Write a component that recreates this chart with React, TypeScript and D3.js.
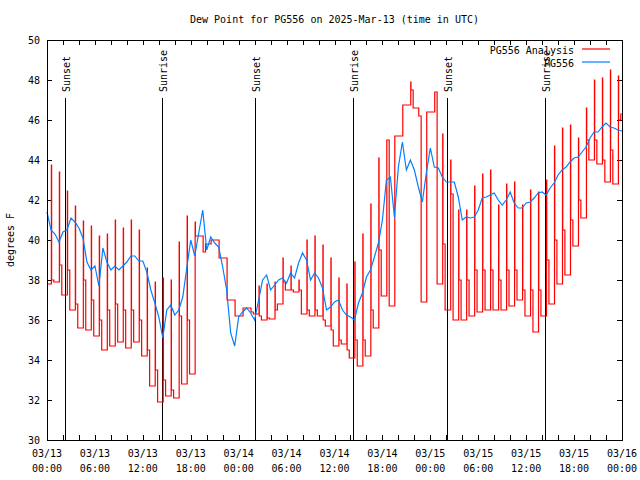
import React from "react";
import * as d3 from "d3";

// ---- data ----
const title = "Dew Point for PG556 on 2025-Mar-13 (time in UTC)";
const yLabel = "degrees F";
const seriesNames = ["PG556 Analysis", "PG556"];
const seriesColors = ["#ff0000", "#0080ff"];

const yTicks = [30, 32, 34, 36, 38, 40, 42, 44, 46, 48, 50];
const xMinorHours = [0, 2, 4, 6, 8, 10, 12, 14, 16, 18, 20, 22, 24, 26, 28, 30, 32, 34, 36, 38, 40, 42, 44, 46, 48, 50, 52, 54, 56, 58, 60, 62, 64, 66, 68, 70, 72];
const xLabelHours = [0, 6, 12, 18, 24, 30, 36, 42, 48, 54, 60, 66, 72];
const xLabelDates = ["03/13", "03/13", "03/13", "03/13", "03/14", "03/14", "03/14", "03/14", "03/15", "03/15", "03/15", "03/15", "03/16"];
const xLabelTimes = ["00:00", "06:00", "12:00", "18:00", "00:00", "06:00", "12:00", "18:00", "00:00", "06:00", "12:00", "18:00", "00:00"];

const sunHours = [2.2, 14.45, 26.05, 38.35, 50.13, 62.4];
const sunLabels = ["Sunset", "Sunrise", "Sunset", "Sunrise", "Sunset", "Sunrise"];

// PG556 (blue), every 30 minutes from 03/13 00:00
const blueValues = [
  41.4, 40.5, 40.3, 39.9, 40.4, 40.5, 41.1, 40.9, 40.6, 40.1,
  38.9, 38.5, 38.7, 37.7, 39.6, 38.9, 38.5, 38.7, 38.5, 38.7,
  38.9, 39.2, 39.2, 38.95, 38.95, 38.4, 37.5, 36.85, 36.15, 35.1,
  36.5, 36.75, 36.25, 36.5, 37.15, 38.6, 40.0, 39.2, 40.35, 41.5,
  39.5, 40.15, 39.85, 39.65, 38.65, 37.5, 35.35, 34.7, 36.15, 36.4,
  36.6, 36.35, 36.0, 37.0, 38.0, 38.25, 37.5, 37.75, 38.0, 38.1,
  37.85, 38.35, 38.1, 38.85, 39.35, 39.0, 38.0, 38.35, 38.1, 37.6,
  36.5, 36.65, 36.9, 37.0, 36.5, 36.25, 36.15, 36.0, 36.85, 37.35,
  38.15, 38.5, 39.15, 39.85, 41.0, 43.0, 43.15, 41.15, 43.65, 44.9,
  43.5, 44.0, 43.5, 42.65, 41.9, 43.35, 44.6, 43.65, 43.6, 43.15,
  42.9, 42.9, 42.9, 42.15, 41.0, 41.15, 41.1, 41.15, 41.5, 42.1,
  42.15, 42.25, 42.35, 42.0, 41.75, 42.0, 42.4, 41.85, 41.6, 41.6,
  41.85, 41.9, 42.1, 42.35, 42.4, 42.25, 42.6, 42.85, 43.25, 43.5,
  43.65, 43.9, 44.1, 44.15, 44.4, 44.65, 45.1, 45.4, 45.4, 45.65,
  45.85, 45.65, 45.6, 45.5, 45.45,
];

// PG556 Analysis (red): hourly spike top, value right after it, and floor until the next spike
const redStart = 37.8;
const redPeak = [
  43.75, 43.4, 42.45, 41.7, 40.95, 40.7, 40.2, 40.3, 41.0, 40.6,
  41.0, 40.5, 38.6, 37.9, 38.1, 38.0, 39.9, 41.2, 40.9, 39.4,
  40.0, 39.1, 37.0, 36.2, 36.6, 36.4, 37.7, 37.8, 37.9, 39.1,
  38.7, 38.0, 40.0, 40.2, 39.75, 39.1, 38.1, 37.8, 38.9, 40.3,
  41.8, 44.1, 45.0, 45.2, 46.75, 47.9, 46.2, 46.4, 47.4, 45.3,
  44.0, 41.5, 41.5, 42.7, 43.3, 43.5, 41.75, 42.8, 42.9, 41.75,
  42.5, 42.4, 43.0, 44.7, 45.6, 45.75, 45.1, 46.6, 48.0, 48.1,
  48.5, 48.2,
];
const redMid = [
  38.0, 38.75, 38.5, 36.8, 38.0, 37.0, 36.0, 36.5, 36.8, 36.5,
  36.5, 36.0, 34.5, 33.5, 33.0, 32.5, 36.2, 36.0, 40.2, 39.4,
  40.0, 39.1, 37.0, 36.2, 36.6, 36.4, 36.2, 36.1, 36.5, 37.9,
  37.5, 37.5, 36.5, 36.5, 36.0, 35.5, 35.0, 34.5, 35.0, 35.0,
  36.5, 39.5, 45.0, 45.2, 46.75, 47.5, 46.2, 46.4, 47.4, 39.8,
  42.3, 38.0, 38.0, 38.5, 38.5, 38.5, 38.0, 38.5, 38.5, 37.5,
  37.5, 37.5, 39.0, 40.0, 40.5, 41.0, 42.0, 45.0, 45.0, 44.0,
  44.5, 46.0,
];
const redLow = [
  37.9, 37.25, 36.5, 35.6, 35.5, 35.2, 34.5, 34.7, 34.9, 34.6,
  34.9, 34.2, 32.7, 31.9, 32.2, 32.1, 32.8, 33.3, 40.2, 39.8,
  40.0, 39.1, 37.0, 36.2, 36.6, 36.3, 36.0, 36.05, 36.8, 37.5,
  37.4, 36.3, 36.2, 36.2, 35.7, 34.7, 34.8, 34.1, 33.7, 34.2,
  35.6, 37.2, 36.7, 45.2, 46.75, 46.6, 36.9, 46.4, 37.8, 36.5,
  36.0, 36.0, 36.2, 36.4, 36.5, 36.5, 36.5, 36.7, 37.0, 36.2,
  35.4, 36.2, 36.8, 37.8, 38.25, 39.7, 41.1, 44.0, 43.8, 42.9,
  42.8, 46.3,
];

// ---- layout ----
const W = 640;
const H = 480;
const PL = 47;
const PR = 622;
const PT = 40;
const PB = 440;
const FONT = "'DejaVu Sans Mono', monospace";

export default function App() {
  const x = d3.scaleLinear().domain([0, 72]).range([PL, PR]);
  const y = d3.scaleLinear().domain([30, 50]).range([PB, PT]);

  const bluePts: [number, number][] = blueValues.map((v, i) => [i * 0.5, v]);
  const redPts: [number, number][] = [[0, redStart]];
  redPeak.forEach((p, h) => {
    redPts.push([h + 0.55, p]);
    redPts.push([h + 0.58, redMid[h]]);
    redPts.push([h + 0.85, redLow[h]]);
  });
  redPts.push([72, redLow[redLow.length - 1]]);

  const blueLine = d3
    .line<[number, number]>()
    .x((d) => x(d[0]))
    .y((d) => y(d[1]));
  const redLine = d3
    .line<[number, number]>()
    .x((d) => x(d[0]))
    .y((d) => y(d[1]))
    .curve(d3.curveStepAfter);

  const tick = 5;
  const legendX = 574;
  const legendY = [50, 63];

  return (
    <svg
      width={W}
      height={H}
      style={{ position: "absolute", left: 0, top: 0, background: "#fff" }}
      fontFamily={FONT}
      fontSize={10}
    >
      <rect x={0} y={0} width={W} height={H} fill="#fff" />
      <text x={(PL + PR) / 2} y={23} textAnchor="middle" fill="#000">
        {title}
      </text>

      {/* ticks */}
      <g stroke="#000" strokeWidth={1} shapeRendering="crispEdges">
        {yTicks.map((v) => (
          <g key={"yt" + v}>
            <line x1={PL} x2={PL + tick} y1={Math.round(y(v)) + 0.5} y2={Math.round(y(v)) + 0.5} />
            <line x1={PR - tick} x2={PR} y1={Math.round(y(v)) + 0.5} y2={Math.round(y(v)) + 0.5} />
          </g>
        ))}
        {xMinorHours.map((h) => (
          <g key={"xt" + h}>
            <line x1={Math.round(x(h)) + 0.5} x2={Math.round(x(h)) + 0.5} y1={PB} y2={PB - tick} />
            <line x1={Math.round(x(h)) + 0.5} x2={Math.round(x(h)) + 0.5} y1={PT} y2={PT + tick} />
          </g>
        ))}
      </g>

      {/* y labels */}
      {yTicks.map((v) => (
        <text key={"yl" + v} x={40} y={y(v) + 3.5} textAnchor="end" fill="#000">
          {v}
        </text>
      ))}
      {/* x labels */}
      {xLabelHours.map((h, i) => (
        <g key={"xl" + h}>
          <text x={x(h)} y={457} textAnchor="middle" fill="#000">
            {xLabelDates[i]}
          </text>
          <text x={x(h)} y={472} textAnchor="middle" fill="#000">
            {xLabelTimes[i]}
          </text>
        </g>
      ))}
      <text
        transform={`translate(14,${(PT + PB) / 2}) rotate(-90)`}
        textAnchor="middle"
        fill="#000"
      >
        {yLabel}
      </text>

      {/* sunrise / sunset */}
      {sunHours.map((h, i) => (
        <g key={"sun" + i}>
          <line
            x1={Math.round(x(h)) + 0.5}
            x2={Math.round(x(h)) + 0.5}
            y1={98}
            y2={PB}
            stroke="#000"
            strokeWidth={1}
            shapeRendering="crispEdges"
          />
          <text
            transform={`translate(${Math.round(x(h)) + 4.5},92) rotate(-90)`}
            textAnchor="start"
            fill="#000"
          >
            {sunLabels[i]}
          </text>
        </g>
      ))}

      {/* series */}
      <path d={redLine(redPts) ?? ""} fill="none" stroke={seriesColors[0]} strokeWidth={1.2} />
      <path d={blueLine(bluePts) ?? ""} fill="none" stroke={seriesColors[1]} strokeWidth={1.2} />

      {/* legend */}
      {seriesNames.map((n, i) => (
        <g key={"lg" + i}>
          <text x={legendX} y={legendY[i] + 3.5} textAnchor="end" fill="#000">
            {n}
          </text>
          <line
            x1={582}
            x2={610}
            y1={legendY[i] - 1}
            y2={legendY[i] - 1}
            stroke={seriesColors[i]}
            strokeWidth={1.2}
          />
        </g>
      ))}

      {/* border */}
      <rect
        x={PL + 0.5}
        y={PT + 0.5}
        width={PR - PL}
        height={PB - PT}
        fill="none"
        stroke="#000"
        strokeWidth={1}
        shapeRendering="crispEdges"
      />
    </svg>
  );
}
